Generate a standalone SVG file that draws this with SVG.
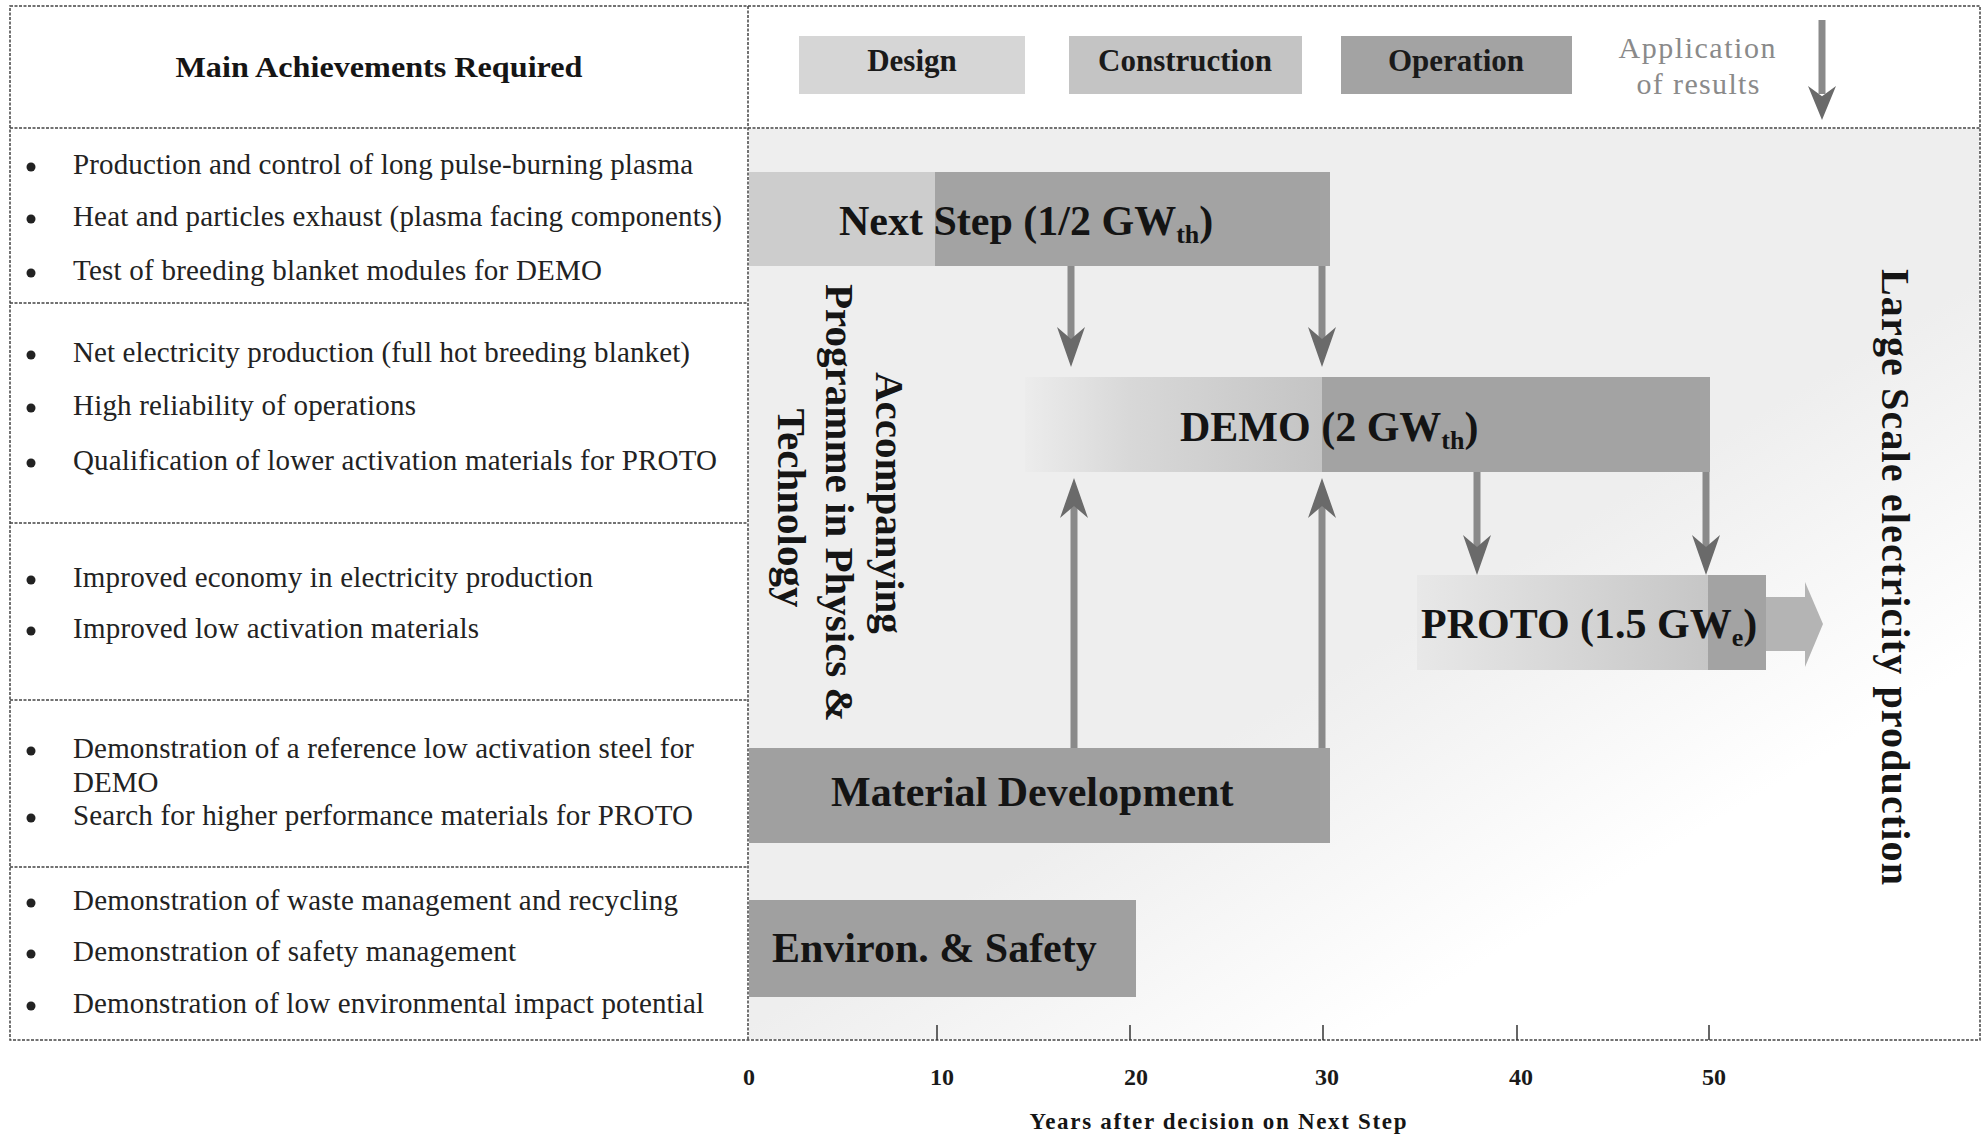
<svg xmlns="http://www.w3.org/2000/svg" xmlns:xlink="http://www.w3.org/1999/xlink" width="1982" height="1138" viewBox="0 0 1982 1138">
<style>
  .frame { stroke:#444; stroke-width:1.5; stroke-dasharray:3 1.5; fill:none; }
  .serif { font-family:"Liberation Serif","Times New Roman",serif; }
  .item { font-family:"Liberation Serif","Times New Roman",serif; font-size:29px; fill:#222; }
  .bullet { fill:#222; }
  .bold { font-family:"Liberation Serif","Times New Roman",serif; font-weight:bold; fill:#151515; }
  .barlabel { font-family:"Liberation Serif","Times New Roman",serif; font-weight:bold; font-size:42px; fill:#141414; }
  .legend { font-family:"Liberation Serif","Times New Roman",serif; font-weight:bold; font-size:31px; fill:#1a1a1a; text-anchor:middle; }
  .axis { font-family:"Liberation Serif","Times New Roman",serif; font-weight:bold; font-size:24px; fill:#1a1a1a; text-anchor:middle; }
  .shaft { stroke:#8a8a8a; stroke-width:7; fill:none; }
  .head { fill:#6a6a6a; }
  .tick { stroke:#333; stroke-width:1.5; }
  .design { fill:#d6d6d6; }
  .construction { fill:#c4c4c4; }
  .operation { fill:#a3a3a3; }
</style>
<defs>
  <linearGradient id="bgGrad" gradientUnits="userSpaceOnUse" x1="1450" y1="600" x2="1620" y2="880">
    <stop offset="0" stop-color="#eeeeee"/>
    <stop offset="1" stop-color="#ffffff"/>
  </linearGradient>
  <linearGradient id="demoGrad" x1="0" y1="0" x2="1" y2="0">
    <stop offset="0" stop-color="#ececec"/>
    <stop offset="0.35" stop-color="#d8d8d8"/>
    <stop offset="1" stop-color="#c4c4c4"/>
  </linearGradient>
  <linearGradient id="protoGrad" x1="0" y1="0" x2="1" y2="0">
    <stop offset="0" stop-color="#e8e8e8"/>
    <stop offset="1" stop-color="#c6c6c6"/>
  </linearGradient>
  <path id="headDown" class="head" d="M-14,-40 L0,-28 L14,-40 L0,0 Z"/>
</defs>

<rect x="0" y="0" width="1982" height="1138" fill="#ffffff"/>

<!-- right panel background shading -->
<rect id="timeline-background" x="749" y="129" width="1230" height="910" fill="url(#bgGrad)"/>

<!-- frame / table -->
<g id="frame">
  <rect class="frame" x="10" y="6" width="1970" height="1034"/>
  <line class="frame" x1="748" y1="6" x2="748" y2="1040"/>
  <line class="frame" x1="10" y1="128" x2="1980" y2="128"/>
  <line class="frame" x1="10" y1="303" x2="748" y2="303"/>
  <line class="frame" x1="10" y1="523" x2="748" y2="523"/>
  <line class="frame" x1="10" y1="700" x2="748" y2="700"/>
  <line class="frame" x1="10" y1="867" x2="748" y2="867"/>
</g>

<g id="header-title">
  <text class="bold" x="379" y="77" font-size="30" text-anchor="middle" textLength="407" lengthAdjust="spacingAndGlyphs">Main Achievements Required</text>
</g>

<!-- legend -->
<g id="legend-design">
  <rect class="design" x="799" y="36" width="226" height="58"/>
  <text class="legend" x="912" y="71">Design</text>
</g>
<g id="legend-construction">
  <rect class="construction" x="1069" y="36" width="233" height="58"/>
  <text class="legend" x="1185" y="71">Construction</text>
</g>
<g id="legend-operation">
  <rect class="operation" x="1341" y="36" width="231" height="58"/>
  <text class="legend" x="1456" y="71">Operation</text>
</g>
<g id="legend-application">
  <text class="serif" x="1697" y="58" font-size="30" fill="#8a8a8a" text-anchor="middle" textLength="157">Application</text>
  <text class="serif" x="1698" y="94" font-size="30" fill="#8a8a8a" text-anchor="middle" textLength="123">of results</text>
</g>

<!-- achievements rows -->
<g id="row-next-step">
  <circle class="bullet" cx="31" cy="167" r="4.5"/>
  <text class="item" x="73" y="174" textLength="620">Production and control of long pulse-burning plasma</text>
  <circle class="bullet" cx="31" cy="219" r="4.5"/>
  <text class="item" x="73" y="226" textLength="649">Heat and particles exhaust (plasma facing components)</text>
  <circle class="bullet" cx="31" cy="273" r="4.5"/>
  <text class="item" x="73" y="280" textLength="529">Test of breeding blanket modules for DEMO</text>
</g>
<g id="row-demo">
  <circle class="bullet" cx="31" cy="355" r="4.5"/>
  <text class="item" x="73" y="362" textLength="617">Net electricity production (full hot breeding blanket)</text>
  <circle class="bullet" cx="31" cy="408" r="4.5"/>
  <text class="item" x="73" y="415" textLength="343">High reliability of operations</text>
  <circle class="bullet" cx="31" cy="463" r="4.5"/>
  <text class="item" x="73" y="470" textLength="644">Qualification of lower activation materials for PROTO</text>
</g>
<g id="row-proto">
  <circle class="bullet" cx="31" cy="580" r="4.5"/>
  <text class="item" x="73" y="587" textLength="520">Improved economy in electricity production</text>
  <circle class="bullet" cx="31" cy="631" r="4.5"/>
  <text class="item" x="73" y="638" textLength="406">Improved low activation materials</text>
</g>
<g id="row-material">
  <circle class="bullet" cx="31" cy="751" r="4.5"/>
  <text class="item" x="73" y="758" textLength="621">Demonstration of a reference low activation steel for</text>
  <text class="item" x="73" y="792">DEMO</text>
  <circle class="bullet" cx="31" cy="818" r="4.5"/>
  <text class="item" x="73" y="825" textLength="620">Search for higher performance materials for PROTO</text>
</g>
<g id="row-environ">
  <circle class="bullet" cx="31" cy="903" r="4.5"/>
  <text class="item" x="73" y="910" textLength="605">Demonstration of waste management and recycling</text>
  <circle class="bullet" cx="31" cy="954" r="4.5"/>
  <text class="item" x="73" y="961" textLength="443">Demonstration of safety management</text>
  <circle class="bullet" cx="31" cy="1006" r="4.5"/>
  <text class="item" x="73" y="1013" textLength="631">Demonstration of low environmental impact potential</text>
</g>

<!-- timeline bars -->
<g id="node-next-step">
  <rect x="749" y="172" width="186" height="94" fill="#cdcdcd"/>
  <rect class="operation" x="935" y="172" width="395" height="94"/>
  <text class="barlabel" x="839" y="235">Next Step (1/2 GW<tspan font-size="26" dy="8">th</tspan><tspan dy="-8">)</tspan></text>
</g>
<g id="node-demo">
  <rect x="1025" y="377" width="297" height="95" fill="url(#demoGrad)"/>
  <rect class="operation" x="1322" y="377" width="388" height="95"/>
  <text class="barlabel" x="1180" y="441">DEMO (2 GW<tspan font-size="26" dy="8">th</tspan><tspan dy="-8">)</tspan></text>
</g>
<g id="node-proto">
  <rect x="1417" y="575" width="291" height="95" fill="url(#protoGrad)"/>
  <rect class="operation" x="1708" y="575" width="58" height="95"/>
  <polygon points="1766,597 1805,597 1805,582 1823,624 1805,667 1805,651 1766,651" fill="#b4b4b4"/>
  <text class="barlabel" x="1421" y="638">PROTO (1.5 GW<tspan font-size="26" dy="8">e</tspan><tspan dy="-8">)</tspan></text>
</g>
<g id="node-material">
  <rect x="749" y="748" width="581" height="95" fill="#a0a0a0"/>
  <text class="barlabel" x="831" y="806">Material Development</text>
</g>
<g id="node-environ">
  <rect x="749" y="900" width="387" height="97" fill="#a0a0a0"/>
  <text class="barlabel" x="772" y="962">Environ. &amp; Safety</text>
</g>

<!-- connectors -->
<g id="connectors">
  <line class="shaft" x1="1822" y1="20" x2="1822" y2="94"/>
  <use xlink:href="#headDown" href="#headDown" transform="translate(1822,120) scale(1,0.85)"/>
  <line class="shaft" x1="1071" y1="266" x2="1071" y2="340"/>
  <use xlink:href="#headDown" href="#headDown" transform="translate(1071,367)"/>
  <line class="shaft" x1="1322" y1="266" x2="1322" y2="340"/>
  <use xlink:href="#headDown" href="#headDown" transform="translate(1322,367)"/>
  <line class="shaft" x1="1074" y1="748" x2="1074" y2="506"/>
  <use xlink:href="#headDown" href="#headDown" transform="translate(1074,478) rotate(180)"/>
  <line class="shaft" x1="1322" y1="748" x2="1322" y2="506"/>
  <use xlink:href="#headDown" href="#headDown" transform="translate(1322,478) rotate(180)"/>
  <line class="shaft" x1="1477" y1="472" x2="1477" y2="548"/>
  <use xlink:href="#headDown" href="#headDown" transform="translate(1477,575)"/>
  <line class="shaft" x1="1706" y1="472" x2="1706" y2="548"/>
  <use xlink:href="#headDown" href="#headDown" transform="translate(1706,575)"/>
</g>

<!-- vertical labels -->
<g id="label-accompanying">
  <text class="bold" font-size="41" text-anchor="middle" transform="translate(876,508) rotate(90)">
    <tspan x="0" y="0">Accompanying</tspan>
    <tspan x="0" y="50">Programme in Physics &amp;</tspan>
    <tspan x="0" y="98">Technology</tspan>
  </text>
</g>
<g id="label-large-scale">
  <text class="bold" font-size="40" text-anchor="middle" textLength="616" transform="translate(1882,577) rotate(90)">Large Scale electricity production</text>
</g>

<!-- axis -->
<g id="axis">
  <line class="tick" x1="937" y1="1025" x2="937" y2="1040"/>
  <line class="tick" x1="1130" y1="1025" x2="1130" y2="1040"/>
  <line class="tick" x1="1323" y1="1025" x2="1323" y2="1040"/>
  <line class="tick" x1="1517" y1="1025" x2="1517" y2="1040"/>
  <line class="tick" x1="1709" y1="1025" x2="1709" y2="1040"/>
  <text class="axis" x="749" y="1085">0</text>
  <text class="axis" x="942" y="1085">10</text>
  <text class="axis" x="1136" y="1085">20</text>
  <text class="axis" x="1327" y="1085">30</text>
  <text class="axis" x="1521" y="1085">40</text>
  <text class="axis" x="1714" y="1085">50</text>
  <text class="bold" x="1218" y="1129" font-size="23" text-anchor="middle" textLength="377">Years after decision on Next Step</text>
</g>
</svg>
